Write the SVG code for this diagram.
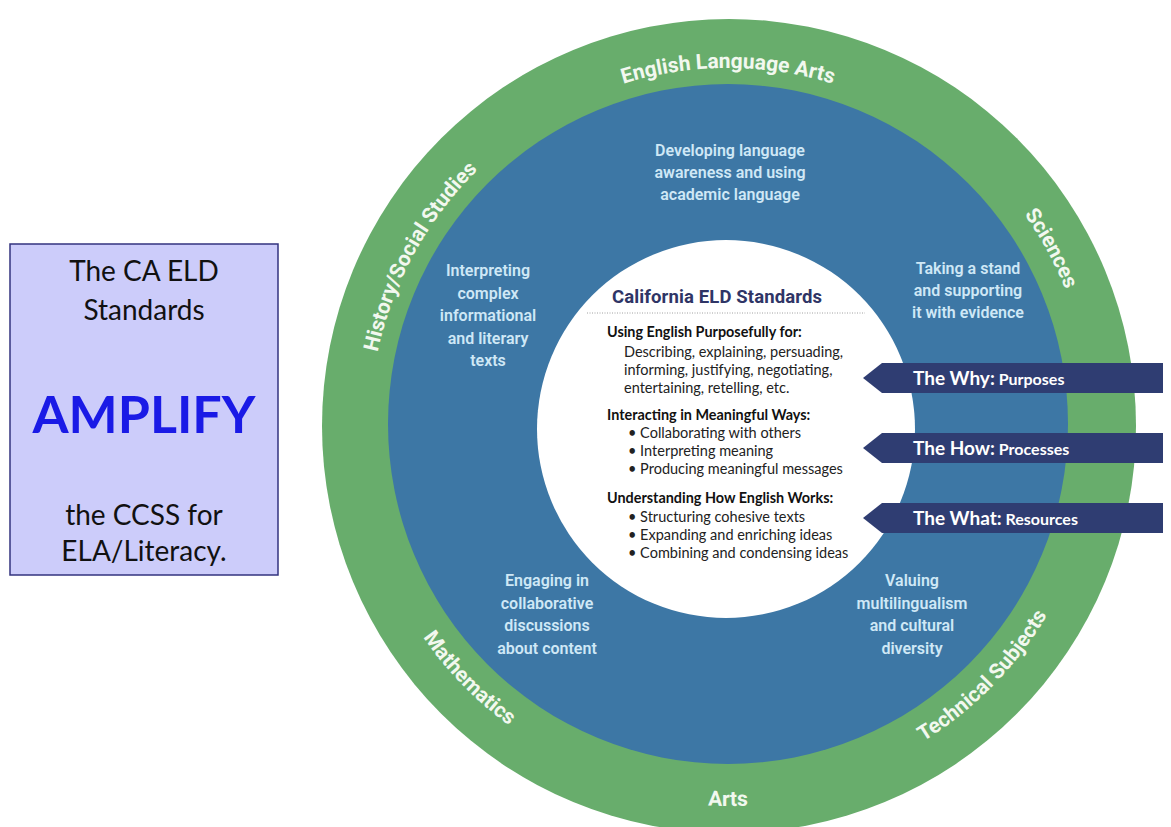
<svg xmlns="http://www.w3.org/2000/svg" width="1171" height="827" viewBox="0 0 1171 827">
<style>
.band{font-family:Roboto,"Noto Sans",sans-serif;font-weight:700;font-size:21px;fill:#f2f8ef}
.lbl{font-family:Roboto,"Noto Sans",sans-serif;font-weight:600;font-size:16px;fill:#cfe8f6;text-anchor:middle}
.body{font-family:Lato,"Open Sans",sans-serif;font-size:14.5px;fill:#222}
.bodyb{font-family:Lato,"Open Sans",sans-serif;font-size:14.4px;font-weight:700;fill:#111}
.box{font-family:Lato,"Open Sans",sans-serif;font-size:28px;fill:#111;text-anchor:middle}
.arr{fill:#2f3d72}
.arrt{font-family:Lato,"Open Sans",sans-serif;font-weight:700;fill:#fff}
</style>
<defs>
<path id="topArc" d="M 370,426 A 358,358 0 0 1 1086,426"/>
<path id="sciArc" d="M 364,426 A 364,364 0 0 1 1092,426"/>
<path id="botArc" d="M 357,426 A 371,371 0 0 0 1099,426"/>
<path id="artsArc" d="M 348,426 A 380,380 0 0 0 1108,426"/>
</defs>
<rect width="1171" height="827" fill="#fff"/>
<g id="rings">
<circle cx="729" cy="426" r="407" fill="#68ad6c"/>
<circle cx="728" cy="424" r="340" fill="#3d77a5"/>
<circle cx="726" cy="429" r="189" fill="#fff"/>
</g>
<g id="band-labels">
<text class="band"><textPath href="#topArc" startOffset="50%" text-anchor="middle">English Language Arts</textPath></text>
<text class="band"><textPath href="#topArc" startOffset="16%" text-anchor="middle">History/Social Studies</textPath></text>
<text class="band"><textPath href="#sciArc" startOffset="84%" text-anchor="middle">Sciences</textPath></text>
<text class="band"><textPath href="#botArc" startOffset="24.6%" text-anchor="middle">Mathematics</textPath></text>
<text class="band"><textPath href="#botArc" startOffset="75.3%" text-anchor="middle">Technical Subjects</textPath></text>
<text class="band"><textPath href="#artsArc" startOffset="50%" text-anchor="middle">Arts</textPath></text>
</g>
<g id="label-developing">
<text class="lbl" x="730" y="156"><tspan x="730">Developing language</tspan><tspan x="730" dy="22">awareness and using</tspan><tspan x="730" dy="22">academic language</tspan></text>
</g>
<g id="label-interpreting">
<text class="lbl" x="488" y="276"><tspan x="488">Interpreting</tspan><tspan x="488" dy="22.5">complex</tspan><tspan x="488" dy="22.5">informational</tspan><tspan x="488" dy="22.5">and literary</tspan><tspan x="488" dy="22.5">texts</tspan></text>
</g>
<g id="label-taking">
<text class="lbl" x="968" y="274"><tspan x="968">Taking a stand</tspan><tspan x="968" dy="22">and supporting</tspan><tspan x="968" dy="22">it with evidence</tspan></text>
</g>
<g id="label-engaging">
<text class="lbl" x="547" y="586"><tspan x="547">Engaging in</tspan><tspan x="547" dy="22.5">collaborative</tspan><tspan x="547" dy="22.5">discussions</tspan><tspan x="547" dy="22.5">about content</tspan></text>
</g>
<g id="label-valuing">
<text class="lbl" x="912" y="586"><tspan x="912">Valuing</tspan><tspan x="912" dy="22.5">multilingualism</tspan><tspan x="912" dy="22.5">and cultural</tspan><tspan x="912" dy="22.5">diversity</tspan></text>
</g>
<g id="center-standards">
<text x="717" y="303" text-anchor="middle" textLength="210" style="font-family:Roboto,'Noto Sans',sans-serif;font-weight:700;font-size:18.5px;fill:#2f3566">California ELD Standards</text>
<line x1="587" y1="313" x2="865" y2="313" stroke="#a0a0a0" stroke-width="1" stroke-dasharray="1 1.5"/>
<text class="bodyb" x="607" y="337">Using English Purposefully for:</text>
<text class="body" x="624" y="357"><tspan x="624">Describing, explaining, persuading,</tspan><tspan x="624" dy="18">informing, justifying, negotiating,</tspan><tspan x="624" dy="18">entertaining, retelling, etc.</tspan></text>
<text class="bodyb" x="607" y="420">Interacting in Meaningful Ways:</text>
<text class="body" x="628" y="438"><tspan x="628">• Collaborating with others</tspan><tspan x="628" dy="18">• Interpreting meaning</tspan><tspan x="628" dy="18">• Producing meaningful messages</tspan></text>
<text class="bodyb" x="607" y="503">Understanding How English Works:</text>
<text class="body" x="628" y="522"><tspan x="628">• Structuring cohesive texts</tspan><tspan x="628" dy="18">• Expanding and enriching ideas</tspan><tspan x="628" dy="18">• Combining and condensing ideas</tspan></text>
</g>
<g id="arrow-why">
<polygon class="arr" points="863,378 882,363 1163,363 1163,393 882,393"/>
<text class="arrt" x="913" y="385"><tspan font-size="19">The Why:</tspan><tspan font-size="16"> Purposes</tspan></text>
</g>
<g id="arrow-how">
<polygon class="arr" points="863,448 882,433 1163,433 1163,463 882,463"/>
<text class="arrt" x="913" y="455"><tspan font-size="19">The How:</tspan><tspan font-size="16"> Processes</tspan></text>
</g>
<g id="arrow-what">
<polygon class="arr" points="863,518 882,503 1163,503 1163,533 882,533"/>
<text class="arrt" x="913" y="525"><tspan font-size="19">The What:</tspan><tspan font-size="16"> Resources</tspan></text>
</g>
<g id="amplify-box">
<rect x="10" y="244" width="268" height="331" fill="#ccccfa" stroke="#33337f" stroke-width="1.5"/>
<text class="box" x="144" y="281">The CA ELD</text>
<text class="box" x="144" y="320">Standards</text>
<text x="144" y="433" text-anchor="middle" style="font-family:Lato,'Open Sans',sans-serif;font-weight:700;font-size:52px;fill:#1a1ae6">AMPLIFY</text>
<text class="box" x="144" y="525">the CCSS for</text>
<text class="box" x="144" y="561">ELA/Literacy.</text>
</g>
<g id="connectors"/>
</svg>
